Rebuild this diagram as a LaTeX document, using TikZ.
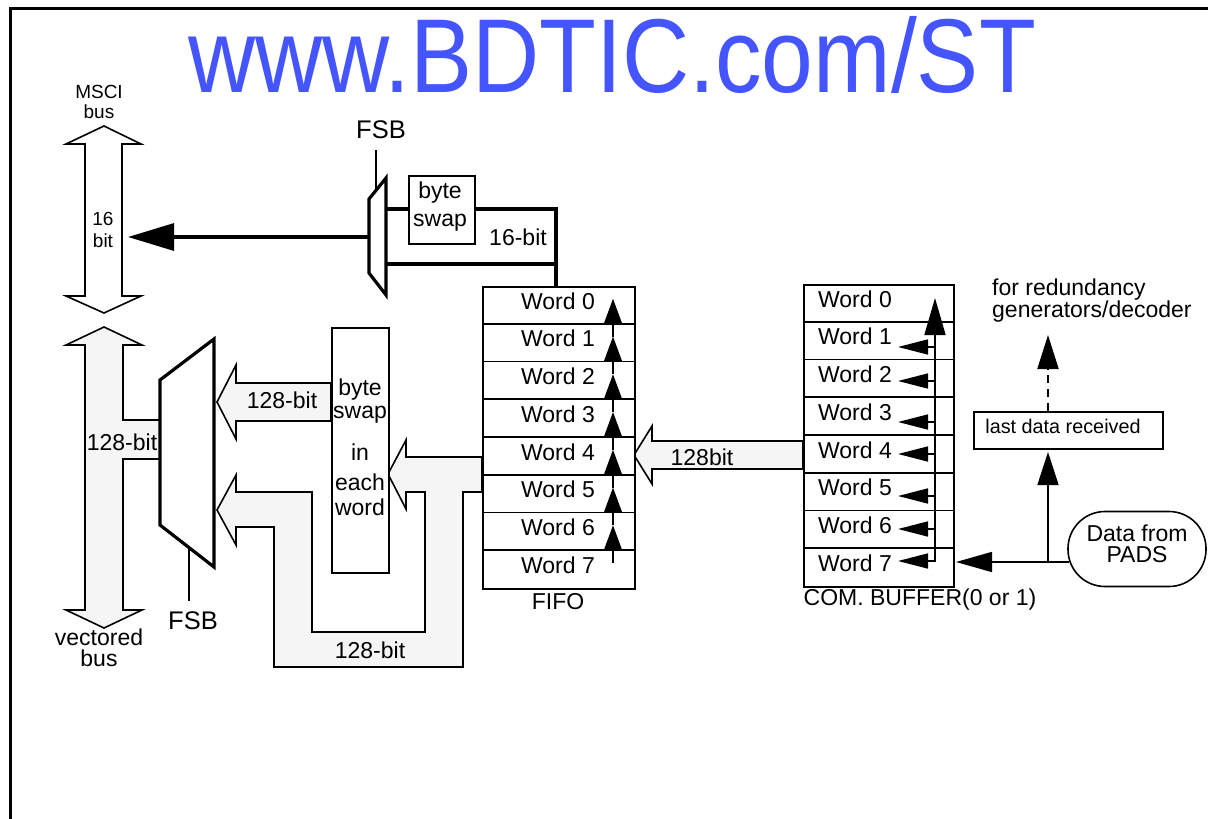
\documentclass[tikz,border=0pt]{standalone}
\usepackage{fontspec}
\setmainfont{Liberation Sans}
\usetikzlibrary{arrows.meta}
\definecolor{wmblue}{RGB}{68,85,255}
\definecolor{bandgray}{RGB}{245,245,245}
\begin{document}
\begin{tikzpicture}[x=1pt,y=-1pt,
  thinln/.style={line width=1.6pt},
  thickln/.style={line width=3.2pt},
  boxs/.style={draw,line width=1.6pt,fill=white,inner sep=0pt,anchor=north west},
  txt/.style={inner sep=0pt,font=\fontsize{23}{26}\selectfont},
  smalltxt/.style={inner sep=0pt,font=\fontsize{19}{22}\selectfont},
  fsbtxt/.style={inner sep=0pt,font=\fontsize{25.5}{28}\selectfont},
  band/.style={draw,line width=1.6pt,fill=bandgray},
  hollow/.style={draw,line width=1.6pt,fill=white},
]
\useasboundingbox (0,0) rectangle (1208,819);
\clip (0,0) rectangle (1208,819);
% frame
\draw[line width=3pt] (10,830) -- (10,8) -- (1220,8);
% watermark
\node[anchor=base west,inner sep=0pt,text=wmblue,font=\fontsize{105}{110}\selectfont] (wm) at (188,92) {\scalebox{0.886}[1]{www.BDTIC.com/ST}};

% lower (vectored) double arrow with branch
\draw[band] (104,327) -- (142,345) -- (123,345) -- (123,420) -- (160,420) -- (160,459) -- (123,459) -- (123,610) -- (142,610) -- (104,628) -- (66,610) -- (85,610) -- (85,345) -- (66,345) -- cycle;
% upper (MSCI) double arrow
\draw[hollow] (104,126) -- (141,144) -- (122,144) -- (122,296) -- (141,296) -- (104,313) -- (66,296) -- (85,296) -- (85,144) -- (66,144) -- cycle;
% 128-bit from byte swap to mux
\draw[band] (331,383) -- (236,383) -- (236,365) -- (217,402) -- (236,439) -- (236,421) -- (331,421) -- cycle;
% T-shaped 128-bit bands
\draw[band] (482,457) -- (406,457) -- (406,440) -- (388,474) -- (406,509) -- (406,492) -- (425,492) -- (425,632) -- (312,632) -- (312,492) -- (236,492) -- (236,475) -- (217,510) -- (236,545) -- (236,527) -- (274,527) -- (274,667) -- (463,667) -- (463,492) -- (482,492) -- cycle;
% 128bit from COM buffer to FIFO
\draw[band] (803,441) -- (652,441) -- (652,426) -- (634,455) -- (652,484) -- (652,469) -- (803,469) -- cycle;

% muxes
\draw[thickln,fill=white,line join=miter] (160,380) -- (214,339) -- (214,567) -- (160,525) -- cycle;
\draw[thickln,fill=white,line join=miter] (369,199) -- (386,178) -- (386,295) -- (369,273) -- cycle;
\draw[thinln] (189,547) -- (189,601);
\draw[thinln] (376,190) -- (376,150);
\node[fsbtxt] (fsbl) at (193,621) {FSB};
\node[fsbtxt] (fsbu) at (381,130) {FSB};

% boxes
\node[boxs,minimum width=57pt,minimum height=245pt] (bswap) at (331,327) {};
\node[boxs,minimum width=66pt,minimum height=68pt] (bsmall) at (408,175) {};
\node[boxs,minimum width=152pt,minimum height=302pt] (fifo) at (482,286) {};
\node[boxs,minimum width=150pt,minimum height=302pt] (com) at (803,284) {};
\node[boxs,minimum width=189pt,minimum height=37pt] (ldr) at (973,411) {};
\node[draw,thinln,rounded corners=37pt,minimum width=138pt,minimum height=75pt,inner sep=0pt] (pads) at (1137,549) {};

% rows
\foreach \i in {1,...,7} {
  \draw[thinln] (482,{286+37.75*\i}) -- (634,{286+37.75*\i});
  \draw[thinln] (803,{284+37.75*\i}) -- (953,{284+37.75*\i});
}
\foreach \i in {0,...,7} {
  \node[txt] (fw\i) at (558,{286+37.75*(\i+0.5)-4}) {Word \i};
  \node[txt] (cw\i) at (855,{284+37.75*(\i+0.5)-4}) {Word \i};
}
% FIFO shift arrows
\foreach \k in {1,...,7}
  \draw[thinln,-{Triangle[length=25pt,width=18pt]}] (613,{286+37.75*(\k+1)-25}) -- (613,{286+37.75*\k-25});
% COM buffer arrows
\draw[thinln,-{Triangle[length=37pt,width=21pt]}] (935,562) -- (935,298);
\foreach \y in {347,381,422,454,496,529,561}
  \draw[thinln,-{Triangle[length=30pt,width=15pt]}] (936,\y) -- (898,\y);

% thick 16-bit path
\coordinate (muxuin1) at (386,209);
\coordinate (muxuin2) at (386,264);
\coordinate (fifotop) at (556,286);
\draw[thickln] (muxuin1) -- (bsmall.west |- muxuin1);
\draw[thickln,line join=miter] (bsmall.east |- muxuin1) -- (556,209) -- (fifotop);
\draw[thickln] (muxuin2) -- (556,264);
\coordinate (muxuout) at (369,237);
\coordinate (mscitip) at (128,237);
\draw[thickln,-{Triangle[length=46pt,width=27pt]}] (muxuout) -- (mscitip);

% pads arrows
\coordinate (padsin) at (1069,562);
\coordinate (comin) at (956,562);
\coordinate (jn) at (1048,562);
\draw[thinln,-{Triangle[length=36pt,width=20pt]}] (padsin) -- (comin);
\draw[thinln,-{Triangle[length=33pt,width=21pt]}] (jn) -- (1048,452);
\draw[line width=2pt,dash pattern=on 8pt off 6pt,-{Triangle[length=34pt,width=21pt]}] (ldr.north -| jn) -- (1048,335);

% texts
\node[smalltxt] (t1) at (99,92) {MSCI};
\node[smalltxt] (t2) at (99,112) {bus};
\node[smalltxt] (t3) at (103,219) {16};
\node[smalltxt] (t4) at (103,241) {bit};
\node[txt] (t5) at (99,637) {vectored};
\node[txt] (t6) at (99,658) {bus};
\node[txt] (t7) at (122,442) {128-bit};
\node[txt] (t8) at (282,400) {128-bit};
\node[txt] (t9) at (370,650) {128-bit};
\node[txt] (t10) at (702,457) {128bit};
\node[txt] (t11) at (518,237) {16-bit};
\node[txt] (t12) at (440,193) {byte};
\node[txt] (t13) at (440,223) {swap};
\node[txt] (t14) at (360,390) {byte};
\node[txt] (t15) at (360,415) {swap};
\node[txt] (t16) at (360,452) {in};
\node[txt] (t17) at (360,482) {each};
\node[txt] (t18) at (360,507) {word};
\node[txt] (t19) at (558,602) {FIFO};
\node[txt] (t20) at (920,600) {COM. BUFFER(0 or 1)};
\node[txt,anchor=west] (t21) at (992,290) {for redundancy};
\node[txt,anchor=west] (t22) at (992,312) {generators/decoder};
\node[inner sep=0pt,font=\fontsize{19.8}{22}\selectfont] (t23) at (1063,426) {last data received};
\node[txt] (t24) at (1137,533) {Data from};
\node[txt] (t25) at (1137,555) {PADS};
\end{tikzpicture}
\end{document}
